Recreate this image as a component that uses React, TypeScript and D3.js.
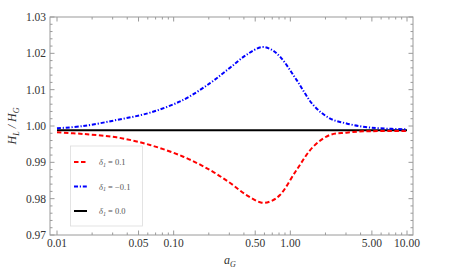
import * as d3 from 'd3';

// values
const aValues = [0.01, 0.0168, 0.0324, 0.0627, 0.121, 0.205, 0.303, 0.421, 0.568, 0.68, 0.815, 1.13, 1.57, 2.18, 3.03, 4.22, 5.86, 10];
const bluePlus = [0.99936, 1.0, 1.00165, 1.00367, 1.0072, 1.0118, 1.016, 1.0196, 1.0217, 1.0211, 1.0191, 1.0127, 1.0058, 1.0021, 1.0007, 0.9998, 0.99936, 0.9991];
const redMinus = [0.99826, 0.9978, 0.99688, 0.99477, 0.99155, 0.98788, 0.98438, 0.981, 0.9789, 0.9793, 0.981, 0.98788, 0.9943, 0.99752, 0.99816, 0.99853, 0.9986, 0.99866];
const blackA = [0.01, 10];
const blackValues = [0.9988, 0.9988];

const xTickValues = [0.01, 0.05, 0.1, 0.5, 1, 5, 10];
const xTickLabels = ['0.01', '0.05', '0.10', '0.50', '1.00', '5.00', '10.00'];
const yTickValues = [0.97, 0.98, 0.99, 1.0, 1.01, 1.02, 1.03];
const yTickLabels = ['0.97', '0.98', '0.99', '1.00', '1.01', '1.02', '1.03'];

const legendLabels = ['0.1', '\u22120.1', '0.0'];

export default function App() {
  const width = 455;
  const height = 274;
  const frame = { left: 50, right: 413, top: 17, bottom: 235 };

  const x = d3.scaleLog().domain([0.01, 10]).range([57, 407]);
  const y = d3.scaleLinear().domain([0.97, 1.03]).range([frame.bottom, frame.top]);

  const line = d3
    .line<[number, number]>()
    .x((d) => x(d[0]))
    .y((d) => y(d[1]))
    .curve(d3.curveCatmullRom);

  const red = line(aValues.map((a, i) => [a, redMinus[i]]));
  const blue = line(aValues.map((a, i) => [a, bluePlus[i]]));
  const black = line(blackA.map((a, i) => [a, blackValues[i]]));

  // minor ticks
  const xMinor: number[] = [];
  for (let k = -2; k <= 0; k++) {
    for (let m = 2; m <= 9; m++) {
      const v = m * Math.pow(10, k);
      if (m !== 5) xMinor.push(v);
    }
  }
  const yMinor = d3.range(0, 31).map((i) => 0.97 + i * 0.002).filter((_, i) => i % 5 !== 0);

  const tickColor = '#9a9a9a';
  const labelColor = '#333';
  const fontStyle = { fontFamily: "'Liberation Serif', 'Times New Roman', 'DejaVu Serif', serif" };

  const legendY = [162, 186.5, 211];
  const legendStyles = [
    { stroke: '#ff0000', dash: '4.5,2.5' },
    { stroke: '#0000ff', dash: '4,1.8,1.2,1.8' },
    { stroke: '#000000', dash: undefined },
  ];

  return (
    <svg width={width} height={height} style={{ position: 'absolute', left: 0, top: 0, background: '#fff' }}>
      {/* frame */}
      <rect
        x={frame.left}
        y={frame.top}
        width={frame.right - frame.left}
        height={frame.bottom - frame.top}
        fill="none"
        stroke={tickColor}
        strokeWidth={1}
      />

      {/* x ticks, bottom and top */}
      {xTickValues.map((v) => (
        <g key={'xt' + v}>
          <line x1={x(v)} x2={x(v)} y1={frame.bottom} y2={frame.bottom - 4.5} stroke={tickColor} />
          <line x1={x(v)} x2={x(v)} y1={frame.top} y2={frame.top + 4.5} stroke={tickColor} />
        </g>
      ))}
      {xMinor.map((v) => (
        <g key={'xm' + v}>
          <line x1={x(v)} x2={x(v)} y1={frame.bottom} y2={frame.bottom - 2.5} stroke={tickColor} />
          <line x1={x(v)} x2={x(v)} y1={frame.top} y2={frame.top + 2.5} stroke={tickColor} />
        </g>
      ))}
      {xTickValues.map((v, i) => (
        <text key={'xl' + v} x={x(v)} y={247} textAnchor="middle" style={fontStyle} fontSize={11.5} fill={labelColor}>
          {xTickLabels[i]}
        </text>
      ))}

      {/* y ticks, left and right */}
      {yTickValues.map((v) => (
        <g key={'yt' + v}>
          <line x1={frame.left} x2={frame.left + 4.5} y1={y(v)} y2={y(v)} stroke={tickColor} />
          <line x1={frame.right} x2={frame.right - 4.5} y1={y(v)} y2={y(v)} stroke={tickColor} />
        </g>
      ))}
      {yMinor.map((v) => (
        <g key={'ym' + v}>
          <line x1={frame.left} x2={frame.left + 2.5} y1={y(v)} y2={y(v)} stroke={tickColor} />
          <line x1={frame.right} x2={frame.right - 2.5} y1={y(v)} y2={y(v)} stroke={tickColor} />
        </g>
      ))}
      {yTickValues.map((v, i) => (
        <text key={'yl' + v} x={46} y={y(v) + 4} textAnchor="end" style={fontStyle} fontSize={11.5} fill={labelColor}>
          {yTickLabels[i]}
        </text>
      ))}

      {/* axis labels */}
      <text x={230} y={264} textAnchor="middle" style={fontStyle} fontSize={12} fill={labelColor} fontStyle="italic">
        a<tspan fontSize={8} dy={2.5}>G</tspan>
      </text>
      <text
        transform="translate(16,126) rotate(-90)"
        textAnchor="middle"
        style={fontStyle}
        fontSize={12}
        fill={labelColor}
        fontStyle="italic"
      >
        H<tspan fontSize={8} dy={2.5}>L</tspan>
        <tspan dy={-2.5}> / H</tspan>
        <tspan fontSize={8} dy={2.5}>G</tspan>
      </text>

      {/* curves */}
      <path d={black ?? ''} fill="none" stroke="#000" strokeWidth={2} />
      <path d={red ?? ''} fill="none" stroke="#ff0000" strokeWidth={2} strokeDasharray="4.5,2.5" />
      <path d={blue ?? ''} fill="none" stroke="#0000ff" strokeWidth={2} strokeDasharray="4,1.8,1.2,1.8" />

      {/* legend */}
      <rect x={70.5} y={146} width={72} height={80} fill="#fff" stroke="#dcdcdc" strokeWidth={0.8} />
      {legendLabels.map((lab, i) => (
        <g key={'lg' + i}>
          <line
            x1={74}
            x2={87}
            y1={legendY[i]}
            y2={legendY[i]}
            stroke={legendStyles[i].stroke}
            strokeWidth={2}
            strokeDasharray={legendStyles[i].dash}
          />
          <text x={99} y={legendY[i] + 3} style={fontStyle} fontSize={8.5} fill="#555">
            <tspan fontStyle="italic">δ</tspan>
            <tspan fontStyle="italic" fontSize={6} dy={1.5}>1</tspan>
            <tspan dy={-1.5}>{' = ' + lab}</tspan>
          </text>
        </g>
      ))}
    </svg>
  );
}
